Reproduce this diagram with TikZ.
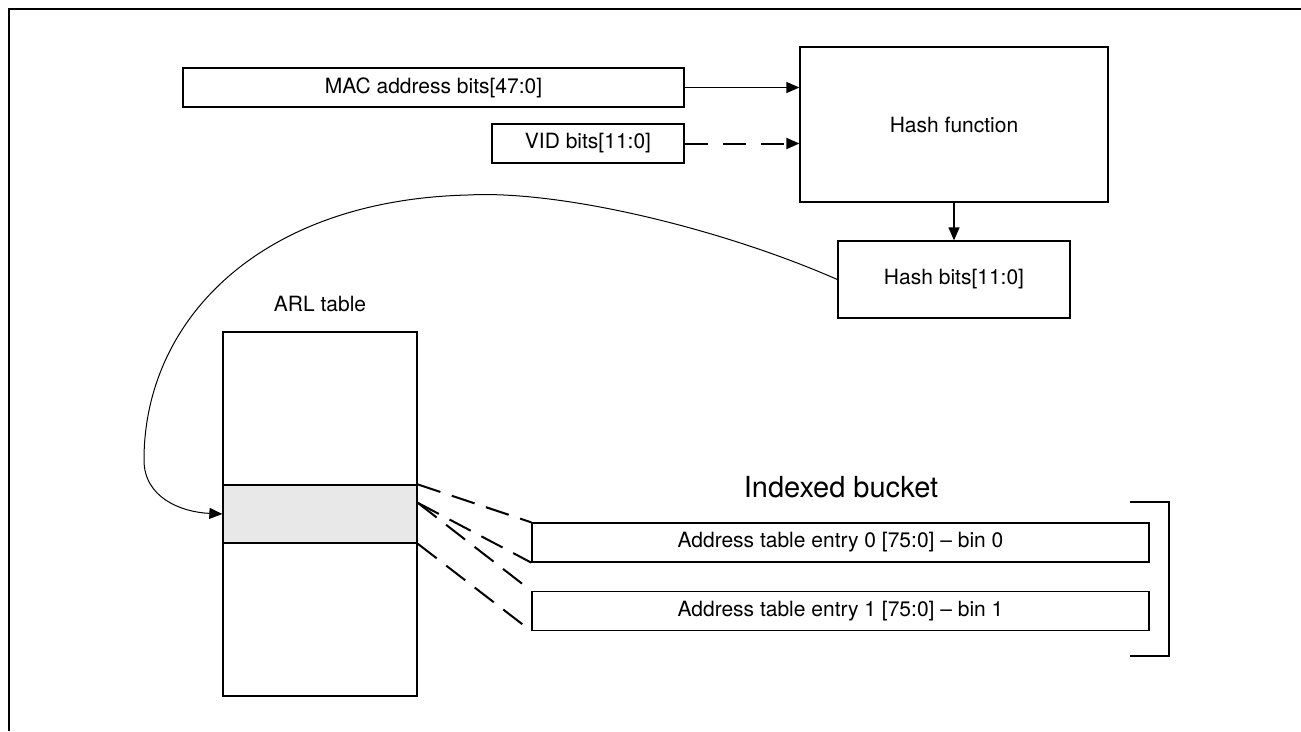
\documentclass[tikz,border=0pt]{standalone}
\usepackage{fontspec}
\setmainfont{TeX Gyre Heros}
\usetikzlibrary{arrows.meta,calc}
\tikzset{
  boxn/.style={draw=black, line width=1.3pt, inner sep=0pt, rectangle, font=\fontsize{21pt}{25pt}\selectfont},
  arr/.style={line width=1.3pt, -{Triangle[length=13pt,width=11pt]}},
  dasharr/.style={line width=2pt, dash pattern=on 23pt off 15pt, -{Triangle[length=13pt,width=11pt]}},
  binline/.style={line width=2pt, dash pattern=on 24pt off 12pt},
  lbl/.style={inner sep=0pt, font=\fontsize{21pt}{25pt}\selectfont},
}
\begin{document}
\begin{tikzpicture}[x=1pt,y=-1pt]
\useasboundingbox (0,0) rectangle (1301,731);
% frame
\draw[line width=2.5pt] (9,731) -- (9,9) -- (1301,9);
% boxes
\node[boxn, minimum width=501pt, minimum height=39pt] (mac) at (433.5,87.5) {MAC address bits[47:0]};
\node[boxn, minimum width=192pt, minimum height=39pt] (vid) at (588,143.5) {VID bits[11:0]};
\node[boxn, minimum width=308pt, minimum height=155pt] (hashf) at (954,124.5) {Hash function};
\node[boxn, minimum width=232pt, minimum height=77pt] (hashb) at (954,279.5) {Hash bits[11:0]};
\node[boxn, minimum width=194pt, minimum height=364pt] (arl) at (320,514) {};
\node[boxn, fill=black!9, minimum width=194pt, minimum height=58pt] (shade) at (320,514) {};
\node[lbl] (arllbl) at (320,304) {ARL table};
\node[boxn, minimum width=617pt, minimum height=39pt] (e0) at (840.5,542.5) {Address table entry 0 [75:0] -- bin 0};
\node[boxn, minimum width=617pt, minimum height=39pt] (e1) at (840.5,611) {Address table entry 1 [75:0] -- bin 1};
\node[inner sep=0pt, font=\fontsize{29pt}{34pt}\selectfont] (ib) at (841,487) {Indexed bucket};
% arrows
\draw[arr] (mac.east) -- (mac.east -| hashf.west);
\draw[dasharr] (vid.east) -- (vid.east -| hashf.west);
\draw[arr] (hashf.south) -- (hashb.north);
\draw[line width=1pt, -{Triangle[length=13pt,width=11pt]}]
  (hashb.west) .. controls (720,228) and (560,190) .. (468,195)
  .. controls (260,200) and (144,320) .. (144,460)
  .. controls (144,497) and (180,512) .. (shade.west);
% dashed bucket lines
\coordinate (mid) at ($(shade.north east)!0.31!(shade.south east)$);
\draw[binline] (shade.north east) -- (e0.north west);
\draw[binline] (mid) -- (e0.south west);
\draw[binline] (mid) -- (e1.north west);
\draw[binline] (shade.south east) -- (e1.south west);
% bracket
\coordinate (bt) at (1130,502);
\coordinate (bb) at (1130,656);
\draw[line width=1.3pt] (bt) -- ++(39,0) |- (bb);
\end{tikzpicture}
\end{document}
